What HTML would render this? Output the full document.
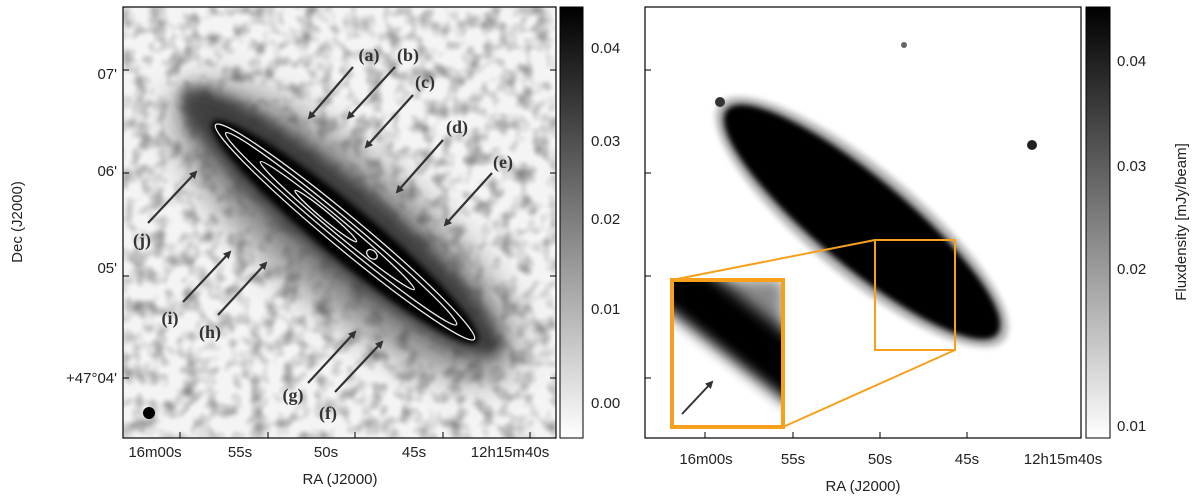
<!DOCTYPE html>
<html><head><meta charset="utf-8"><style>
html,body{margin:0;padding:0;background:#fff;width:1200px;height:499px;overflow:hidden;}
svg{display:block;}
text{font-family:"Liberation Sans",sans-serif;}
text.lab{font-family:"Liberation Serif",serif;font-weight:bold;}
</style></head><body>
<svg width="1200" height="499" viewBox="0 0 1200 499" xmlns="http://www.w3.org/2000/svg">
<defs>
<filter id="noise" x="0" y="0" width="100%" height="100%">
<feTurbulence type="fractalNoise" baseFrequency="0.06" numOctaves="2" seed="4"/>
<feColorMatrix type="matrix" values="0 0 0 0 0  0 0 0 0 0  0 0 0 0 0  2.2 0 0 0 -0.95"/>
<feGaussianBlur stdDeviation="1.5"/>
</filter>
<filter id="b20" x="-50%" y="-50%" width="200%" height="200%"><feGaussianBlur stdDeviation="18"/></filter>
<filter id="b8" x="-50%" y="-50%" width="200%" height="200%"><feGaussianBlur stdDeviation="7"/></filter>
<filter id="b4" x="-50%" y="-50%" width="200%" height="200%"><feGaussianBlur stdDeviation="3"/></filter>
<linearGradient id="cb" x1="0" y1="1" x2="0" y2="0"><stop offset="0" stop-color="#fff"/><stop offset="1" stop-color="#000"/></linearGradient>
<clipPath id="cl"><rect x="123" y="7" width="433" height="431"/></clipPath>
<clipPath id="cr"><rect x="645" y="7" width="436" height="431"/></clipPath>
<clipPath id="ci"><rect x="672" y="280" width="111" height="147"/></clipPath>
<marker id="ah" markerWidth="8" markerHeight="8" refX="6" refY="4" orient="auto" markerUnits="userSpaceOnUse"><path d="M0,0 L8,4 L0,8 Z" fill="#333"/></marker>
</defs>

<!-- LEFT PANEL -->
<g clip-path="url(#cl)">
<rect x="123" y="7" width="433" height="431" fill="#f4f4f4"/>
<rect x="123" y="7" width="433" height="431" fill="#000" filter="url(#noise)" opacity="0.45"/>
<g transform="translate(345,232) rotate(39.7)">
<ellipse cx="0" cy="0" rx="215" ry="70" fill="#555" filter="url(#b20)" opacity="0.7"/>
<ellipse cx="-10" cy="-5" rx="205" ry="40" fill="#333" filter="url(#b8)" opacity="0.85"/>
<ellipse cx="0" cy="0" rx="172" ry="26" fill="#000" filter="url(#b4)"/>
<g fill="none" stroke="#eee" stroke-width="1.3">
<ellipse cx="0" cy="0" rx="168" ry="16"/>
<ellipse cx="-5" cy="0" rx="150" ry="11"/>
<ellipse cx="-10" cy="0" rx="100" ry="7"/>
<ellipse cx="-25" cy="0" rx="40" ry="4"/>
<ellipse cx="35" cy="0" rx="6" ry="4"/>
</g>
</g>
<circle cx="149" cy="413" r="6" fill="#000"/>
<g stroke="#333" stroke-width="2.2" marker-end="url(#ah)">
<line x1="353" y1="67" x2="309" y2="118"/><line x1="395" y1="67" x2="348" y2="118"/>
<line x1="413" y1="95" x2="366" y2="147"/><line x1="443" y1="140" x2="397" y2="192"/>
<line x1="492" y1="173" x2="445" y2="225"/><line x1="148" y1="223" x2="196" y2="172"/>
<line x1="183" y1="302" x2="230" y2="252"/><line x1="218" y1="315" x2="266" y2="263"/>
<line x1="308" y1="383" x2="355" y2="332"/><line x1="335" y1="392" x2="382" y2="342"/>
</g>
<g font-size="18" fill="#333" text-anchor="middle">
<text class="lab" x="369" y="61">(a)</text><text class="lab" x="408" y="61">(b)</text><text class="lab" x="425" y="88">(c)</text>
<text class="lab" x="457" y="133">(d)</text><text class="lab" x="503" y="168">(e)</text><text class="lab" x="142" y="246">(j)</text>
<text class="lab" x="170" y="324">(i)</text><text class="lab" x="210" y="338">(h)</text><text class="lab" x="293" y="401">(g)</text><text class="lab" x="328" y="419">(f)</text>
</g>
</g>
<rect x="123" y="7" width="433" height="431" fill="none" stroke="#000" stroke-width="1.2"/>
<g stroke="#000">
<line x1="180" y1="438" x2="180" y2="432"/><line x1="268" y1="438" x2="268" y2="432"/><line x1="355" y1="438" x2="355" y2="432"/><line x1="443" y1="438" x2="443" y2="432"/><line x1="530" y1="438" x2="530" y2="432"/>
<line x1="123" y1="70" x2="129" y2="70"/><line x1="123" y1="173" x2="129" y2="173"/><line x1="123" y1="276" x2="129" y2="276"/><line x1="123" y1="378" x2="129" y2="378"/>
<line x1="556" y1="70" x2="550" y2="70"/><line x1="556" y1="173" x2="550" y2="173"/><line x1="556" y1="276" x2="550" y2="276"/><line x1="556" y1="378" x2="550" y2="378"/>
</g>
<g font-size="15" fill="#222" text-anchor="end">
<text x="117" y="79">07'</text><text x="117" y="176">06'</text><text x="117" y="273">05'</text><text x="117" y="383">+47°04'</text>
</g>
<g font-size="15" fill="#222" text-anchor="middle">
<text x="155" y="457">16m00s</text><text x="240" y="457">55s</text><text x="326" y="457">50s</text><text x="414" y="457">45s</text><text x="510" y="457">12h15m40s</text>
<text x="340" y="484">RA (J2000)</text>
</g>
<text transform="translate(22,222) rotate(-90)" font-size="15" fill="#222" text-anchor="middle">Dec (J2000)</text>
<rect x="560" y="7" width="23" height="431" fill="url(#cb)" stroke="#000"/>
<g font-size="15" fill="#222"><text x="591" y="53">0.04</text><text x="591" y="146">0.03</text><text x="591" y="224">0.02</text><text x="591" y="314">0.01</text><text x="591" y="408">0.00</text></g>

<!-- RIGHT PANEL -->
<g clip-path="url(#cr)">
<rect x="645" y="7" width="436" height="431" fill="#fff"/>
<g transform="translate(862,222) rotate(39.7)">
<ellipse cx="0" cy="0" rx="185" ry="54" fill="#999" filter="url(#b4)" opacity="0.7"/>
<ellipse cx="0" cy="0" rx="176" ry="45" fill="#000" filter="url(#b4)"/>
</g>
<circle cx="1032" cy="145" r="5" fill="#222"/><circle cx="904" cy="45" r="3" fill="#666"/><circle cx="720" cy="102" r="5" fill="#333"/>
<rect x="875" y="240" width="80" height="110" fill="none" stroke="#f7a01c" stroke-width="2"/>
<line x1="672" y1="280" x2="875" y2="240" stroke="#f7a01c" stroke-width="2"/>
<line x1="783" y1="427" x2="955" y2="350" stroke="#f7a01c" stroke-width="2"/>
<g>
<rect x="672" y="280" width="111" height="147" fill="#fff"/>
<g clip-path="url(#ci)">
<polygon points="700,280 783,280 783,345" fill="#888" filter="url(#b8)"/>
<g transform="translate(728,325) rotate(38)"><rect x="-100" y="-30" width="200" height="55" fill="#000" filter="url(#b8)"/></g>
</g>
<line x1="682" y1="414" x2="712" y2="382" stroke="#333" stroke-width="2" marker-end="url(#ah)"/>
<rect x="672" y="280" width="111" height="147" fill="none" stroke="#f7a01c" stroke-width="4"/>
</g>
</g>
<rect x="645" y="7" width="436" height="431" fill="none" stroke="#000" stroke-width="1.2"/>
<g stroke="#000"><line x1="705" y1="438" x2="705" y2="432"/><line x1="793" y1="438" x2="793" y2="432"/><line x1="880" y1="438" x2="880" y2="432"/><line x1="967" y1="438" x2="967" y2="432"/>
<line x1="645" y1="70" x2="651" y2="70"/><line x1="645" y1="173" x2="651" y2="173"/><line x1="645" y1="276" x2="651" y2="276"/><line x1="645" y1="378" x2="651" y2="378"/></g>
<g font-size="15" fill="#222" text-anchor="middle">
<text x="706" y="464">16m00s</text><text x="793" y="464">55s</text><text x="880" y="464">50s</text><text x="967" y="464">45s</text><text x="1063" y="464">12h15m40s</text>
<text x="863" y="491">RA (J2000)</text>
</g>
<rect x="1086" y="7" width="24" height="431" fill="url(#cb)" stroke="#000"/>
<g font-size="15" fill="#222"><text x="1117" y="66">0.04</text><text x="1117" y="171">0.03</text><text x="1117" y="274">0.02</text><text x="1117" y="431">0.01</text></g>
<text transform="translate(1186,222) rotate(-90)" font-size="15" fill="#222" text-anchor="middle">Fluxdensity [mJy/beam]</text>
</svg>
</body></html>
